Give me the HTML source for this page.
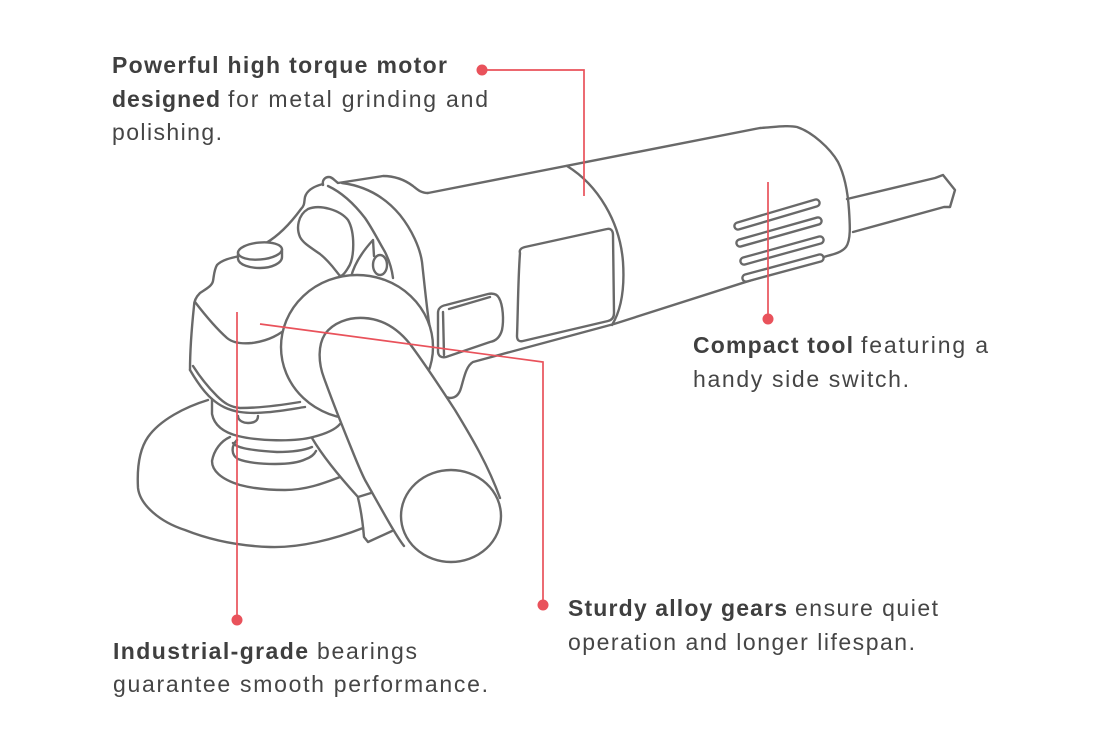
<!DOCTYPE html>
<html>
<head>
<meta charset="utf-8">
<style>
  html,body{margin:0;padding:0;background:#fff;}
  svg{display:block;}
  .t{font-family:"Liberation Sans",sans-serif;font-size:23px;fill:#454545;}
  .b{font-weight:bold;fill:#3f3f3f;}
</style>
</head>
<body>
<svg width="1100" height="750" viewBox="0 0 1100 750" xmlns="http://www.w3.org/2000/svg">
  <rect width="1100" height="750" fill="#fff"/>
  <g fill="none" stroke="#696969" stroke-width="2.4" stroke-linecap="round" stroke-linejoin="round">
    <!-- disc guard -->
    <path d="M208,400 C185,407 160,420 148,437 C139,450 137,470 138,488 C140,505 160,522 185,530 C210,540 240,546 270,547 C300,548 335,539 363,528"/>
    <!-- flange lines -->
    <path d="M233,443 C236,447 245,450 277,452 C295,452 305,450 312,447"/>
    <path d="M237,440 C231,446 231,455 238,459 C248,463 262,464 275,464 C290,464 300,462 306,459 C311,457 314,455 316,451"/>
    <path d="M230,437 C221,441 214,450 212,461 C212,470 220,479 240,485 C255,489 270,490 285,490 C305,490 322,484 340,477"/>
    <!-- collar -->
    <path d="M212,399 L212,414 C214,424 222,432 238,436 C258,441 295,442 313,437 C325,434 335,430 340,424"/>
    <!-- bracket -->
    <path d="M312,438 C322,455 338,475 358,497 L371,493"/>
    <path d="M358,498 C361,510 363,525 364,537 L368,542 L392,531"/>

    <!-- motor body -->
    <path d="M428,193 L760,128 C775,127 788,125 797,127 C812,132 830,148 838,162 C845,176 848,195 849,210 C850,225 851,240 846,247 C842,252 835,254 827,256 L614,324 L473,362 C466,366 464,378 461,388 C459,395 455,398 450,398 L446,397"/>
    <!-- front ring of body -->
    <path d="M567,166 C598,185 620,222 623,262 C625,292 620,312 612,325"/>
    <!-- front panel -->
    <path d="M520,253 C519,250 521,248 525,247 L607,229 C611,228 613,231 613,235 L614,313 C614,317 612,320 608,321 L523,341 C519,342 517,340 517,336 C518,310 518,280 520,253 Z"/>
    <!-- switch -->
    <path d="M438,313 C438,308 441,306 446,305 L488,294 C493,293 497,294 499,298 C503,305 504,320 502,330 C500,337 496,341 490,342 L446,357 C441,358 438,356 438,351 Z"/>
    <path d="M443,312 L444,355"/>
    <path d="M449,309 L490,297"/>
    <!-- cord -->
    <path d="M847,199 L935,178 C938,177 940,176 943,175 L955,190 L950,207 C948,207 946,207 944,207 L853,232"/>

    <!-- head -->
    <path d="M240,256 C230,258 222,260 217,265 C214,270 214,276 213,281 C212,286 206,289 200,293 C196,297 194,301 194,306 C192,325 190,350 190,370"/>
    <path d="M195,302 C205,315 218,330 227,338 C233,343 242,344 252,343 C268,341 280,335 292,324"/>
    <path d="M193,366 C200,377 210,389 217,396 C224,403 230,407 240,408 C260,408 282,405 300,402"/>
    <path d="M190,370 C197,382 205,393 212,399 C220,406 228,410 240,412 C260,415 285,410 305,407"/>
    <path d="M238,416 C238,421 244,423 248,423 C254,423 258,421 258,416" />

    <!-- neck -->
    <path d="M323,184 C315,186 307,190 305,197 C304,202 305,205 301,209 C290,224 278,236 266,243"/>
    <path d="M323,185 C322,180 325,177 329,177 C332,177 334,180 338,183 L383,176 C395,176 405,180 413,186 C418,190 421,193 428,193"/>
    <path d="M328,186 C343,193 355,205 365,218 C372,228 378,240 385,252 C390,262 392,270 393,278"/>
    <path d="M342,183 C365,186 385,197 400,215 C412,230 420,248 422,262 C424,280 426,300 428,315 C429,325 431,332 432,338"/>
    <path d="M300,237 C296,228 298,215 308,209 C320,204 340,210 348,220 C355,232 355,258 348,268 C345,273 342,276 340,276 C335,270 330,262 320,254 C310,247 303,243 300,237 Z"/>
    <path d="M351,277 C354,265 362,252 373,240 L374,256"/>
    <ellipse cx="380" cy="265" rx="7" ry="10"/>

    <!-- button -->
    <path d="M238,252 L238,259 C239,265 250,268 260,268 C272,268 282,263 282,257 L282,249" fill="#fff"/>
    <ellipse cx="260" cy="251" rx="22" ry="8.5" transform="rotate(-5 260 251)" fill="#fff"/>

    <!-- big ring -->
    <ellipse cx="357" cy="347" rx="76" ry="72" fill="#fff"/>

    <!-- side handle -->
    <path d="M402,542 C382,510 365,480 352,450 C343,428 332,400 324,378 C318,362 318,345 325,334 C333,323 348,317 364,318 C383,319 398,329 410,344 C425,364 442,390 455,410 C472,438 488,465 500,498 L451,540 Z" fill="#fff" stroke="none"/>
    <path d="M404,546 C396,536 382,510 365,480 C360,470 356,460 352,450 C343,428 332,400 324,378 C318,362 318,345 325,334 C333,323 348,317 364,318 C383,319 398,329 410,344 C425,364 442,390 455,410 C472,438 488,465 500,498"/>
    <ellipse cx="451" cy="516" rx="50" ry="46" fill="#fff"/>

    <!-- vent slots -->
    <g stroke="#696969" stroke-width="9.5">
      <path d="M738,226 L816,203"/>
      <path d="M740,243 L818,221"/>
      <path d="M744,261 L820,240"/>
      <path d="M746,278 L820,258"/>
    </g>
    <g stroke="#fff" stroke-width="4.8">
      <path d="M738,226 L816,203"/>
      <path d="M740,243 L818,221"/>
      <path d="M744,261 L820,240"/>
      <path d="M746,278 L820,258"/>
    </g>
  </g>

  <!-- red connectors -->
  <g fill="none" stroke="#e9525b" stroke-width="1.7">
    <path d="M482,70 L584,70 L584,196"/>
    <path d="M768,182 L768,319"/>
    <path d="M260,324 L543,362 L543,605"/>
    <path d="M237,312 L237,620"/>
  </g>
  <g fill="#e9525b">
    <circle cx="482" cy="70" r="5.5"/>
    <circle cx="768" cy="319" r="5.5"/>
    <circle cx="543" cy="605" r="5.5"/>
    <circle cx="237" cy="620" r="5.5"/>
  </g>

  <!-- text -->
  <text class="t b" x="112" y="73" textLength="335" lengthAdjust="spacing">Powerful high torque motor</text>
  <text class="t b" x="112" y="107" textLength="108" lengthAdjust="spacing">designed</text>
  <text class="t" x="228" y="107" textLength="260" lengthAdjust="spacing">for metal grinding and</text>
  <text class="t" x="112" y="140" textLength="110" lengthAdjust="spacing">polishing.</text>

  <text class="t b" x="693" y="353" textLength="160" lengthAdjust="spacing">Compact tool</text>
  <text class="t" x="861" y="353" textLength="127" lengthAdjust="spacing">featuring a</text>
  <text class="t" x="693" y="387" textLength="216" lengthAdjust="spacing">handy side switch.</text>

  <text class="t b" x="568" y="616" textLength="219" lengthAdjust="spacing">Sturdy alloy gears</text>
  <text class="t" x="795" y="616" textLength="143" lengthAdjust="spacing">ensure quiet</text>
  <text class="t" x="568" y="650" textLength="347" lengthAdjust="spacing">operation and longer lifespan.</text>

  <text class="t b" x="113" y="659" textLength="195" lengthAdjust="spacing">Industrial-grade</text>
  <text class="t" x="317" y="659" textLength="100" lengthAdjust="spacing">bearings</text>
  <text class="t" x="113" y="692" textLength="375" lengthAdjust="spacing">guarantee smooth performance.</text>
</svg>
</body>
</html>
